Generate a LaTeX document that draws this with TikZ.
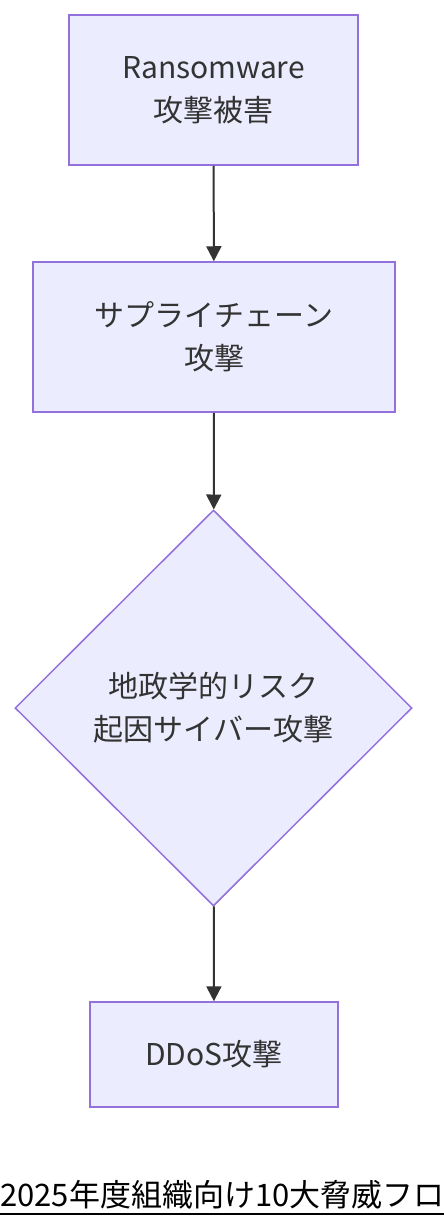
\documentclass[tikz,border=0pt]{standalone}
\usepackage{fontspec}
\setmainfont{Noto Sans CJK JP}
\usetikzlibrary{shapes.geometric,arrows.meta}
\definecolor{nodefill}{HTML}{ECECFF}
\definecolor{nodeline}{HTML}{9370DB}
\definecolor{txt}{HTML}{333333}
\begin{document}
\begin{tikzpicture}[x=1pt,y=-1pt,
  box/.style={draw=nodeline,fill=nodefill,line width=1.5pt,text=txt,
    font=\fontsize{30}{43}\selectfont,align=center,inner sep=0pt},
  arr/.style={draw=txt,line width=2pt,-{Triangle[length=15pt,width=15pt]}}]
\useasboundingbox (0,0) rectangle (444,1228);
\node[box,minimum width=289pt,minimum height=150pt] (a) at (213.5,90) {Ransomware\\攻撃被害};
\node[box,minimum width=362pt,minimum height=150pt] (b) at (214,337) {サプライチェーン\\攻撃};
\node[box,diamond,minimum width=397pt,minimum height=396pt] (c) at (213.5,708) {地政学的リスク\\起因サイバー攻撃};
\node[box,minimum width=248pt,minimum height=105pt] (d) at (214,1054.5) {DDoS攻撃};
\draw[arr] (a) -- (b);
\draw[arr] (b) -- (c);
\draw[arr] (c) -- (d);
\node[anchor=base west,inner sep=0pt,font=\fontsize{31}{31}\selectfont] (t) at (0,1206) {2025年度組織向け10大脅威フロ};
\draw[line width=2pt] (0,1214) -- (444,1214);
\end{tikzpicture}
\end{document}
